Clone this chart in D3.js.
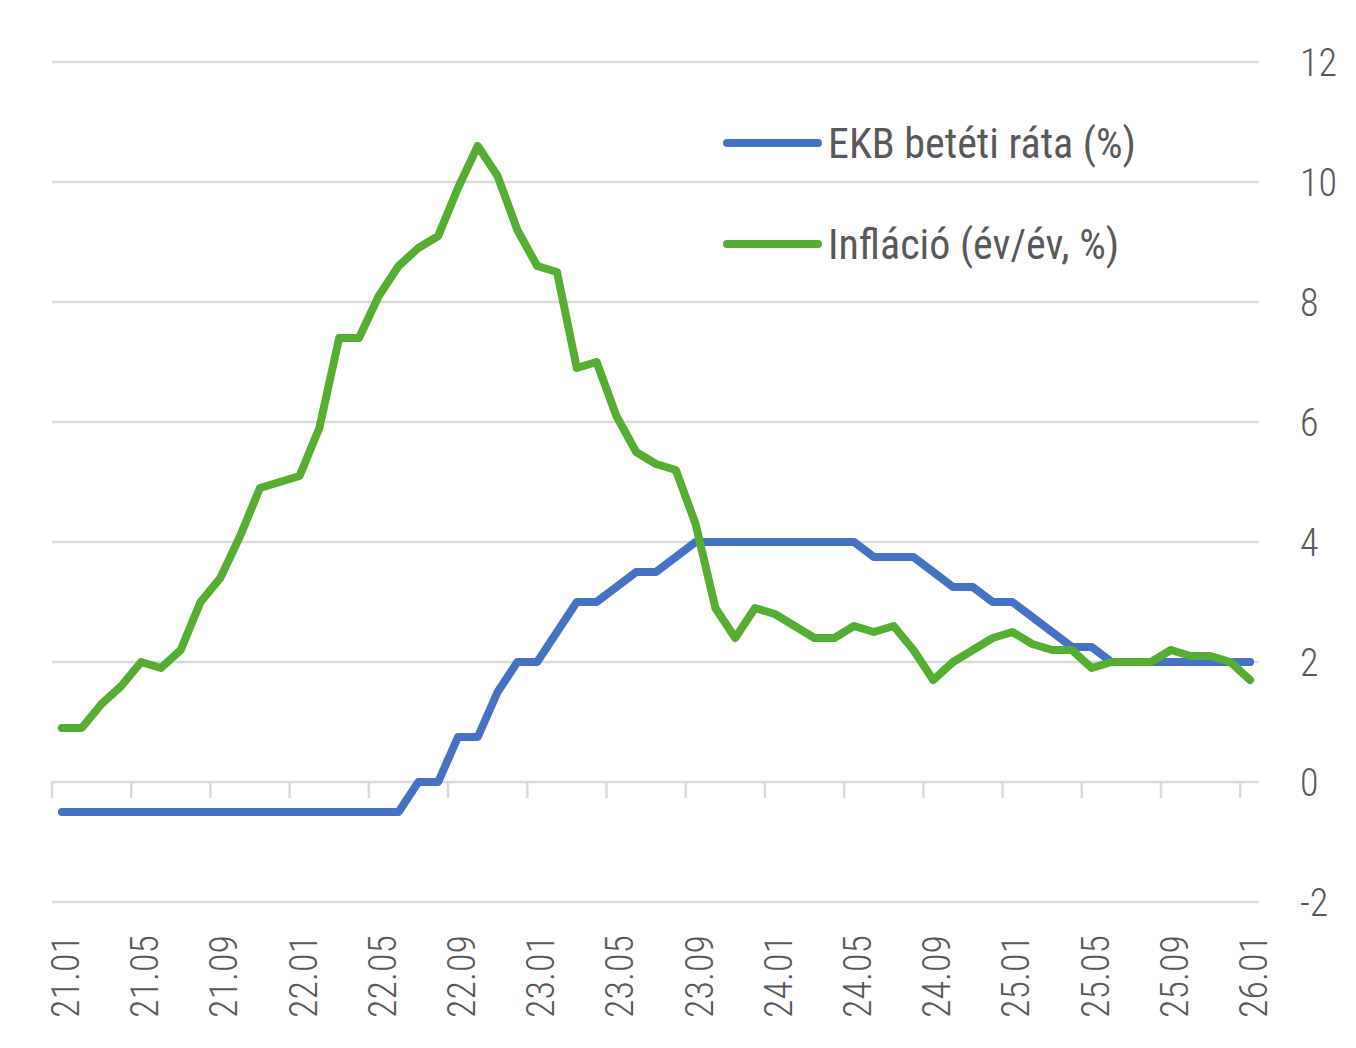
<!DOCTYPE html>
<html>
<head>
<meta charset="utf-8">
<script src="https://cdn.jsdelivr.net/npm/d3@7"></script>
<style>
  body { margin: 0; background: #fff; }
  svg { display: block; }
  .axis-label { font-family: 'Roboto Condensed', Roboto, sans-serif; font-weight: 300; fill: #595959; }
  .legend-label { font-family: 'Roboto Condensed', Roboto, sans-serif; font-weight: 400; fill: #595959; }
</style>
</head>
<body>
<div id="chart"></div>
<script>
const months = [
  '21.01','21.02','21.03','21.04','21.05','21.06','21.07','21.08','21.09','21.10','21.11','21.12',
  '22.01','22.02','22.03','22.04','22.05','22.06','22.07','22.08','22.09','22.10','22.11','22.12',
  '23.01','23.02','23.03','23.04','23.05','23.06','23.07','23.08','23.09','23.10','23.11','23.12',
  '24.01','24.02','24.03','24.04','24.05','24.06','24.07','24.08','24.09','24.10','24.11','24.12',
  '25.01','25.02','25.03','25.04','25.05','25.06','25.07','25.08','25.09','25.10','25.11','25.12',
  '26.01'
]
// EKB betéti ráta (%)
const depositRate = [
  -0.5,-0.5,-0.5,-0.5,-0.5,-0.5,-0.5,-0.5,-0.5,-0.5,-0.5,-0.5,
  -0.5,-0.5,-0.5,-0.5,-0.5,-0.5,0,0,0.75,0.75,1.5,2,
  2,2.5,3,3,3.25,3.5,3.5,3.75,4,4,4,4,
  4,4,4,4,4,3.75,3.75,3.75,3.5,3.25,3.25,3,
  3,2.75,2.5,2.25,2.25,2,2,2,2,2,2,2,
  2
]
// Infláció (év/év, %)
const inflation = [
  0.9,0.9,1.3,1.6,2.0,1.9,2.2,3.0,3.4,4.1,4.9,5.0,
  5.1,5.9,7.4,7.4,8.1,8.6,8.9,9.1,9.9,10.6,10.1,9.2,
  8.6,8.5,6.9,7.0,6.1,5.5,5.3,5.2,4.3,2.9,2.4,2.9,
  2.8,2.6,2.4,2.4,2.6,2.5,2.6,2.2,1.7,2.0,2.2,2.4,
  2.5,2.3,2.2,2.2,1.9,2.0,2.0,2.0,2.2,2.1,2.1,2.0,
  1.7
]
const yTicks = [-2, 0, 2, 4, 6, 8, 10, 12]
const seriesNames = ['EKB betéti ráta (%)', 'Infláció (év/év, %)']
const seriesColors = ['#4472C4', '#53AE32']

const width = 1356, height = 1048
const svg = d3.select('#chart').append('svg')
  .attr('width', width)
  .attr('height', height)

const x = d3.scaleBand()
  .domain(months)
  .range([52, 1260])
  .paddingInner(0).paddingOuter(0)
const bw = x.bandwidth()
const cx = d => x(d) + bw / 2
const y = d3.scaleLinear()
  .domain([-2, 12])
  .range([902, 62])

// gridlines
svg.append('g')
  .selectAll('line')
  .data(yTicks)
  .enter().append('line')
  .attr('x1', 52)
  .attr('x2', 1259)
  .attr('y1', d => y(d))
  .attr('y2', d => y(d))
  .attr('stroke', '#d9d9d9')
  .attr('stroke-width', 2.5)

// category tick marks (between categories, every 4 months)
const tickIdx = d3.range(0, months.length, 4)
svg.append('g')
  .selectAll('line')
  .data(tickIdx)
  .enter().append('line')
  .attr('x1', i => x(months[i]))
  .attr('x2', i => x(months[i]))
  .attr('y1', y(0))
  .attr('y2', y(0) + 16)
  .attr('stroke', '#d9d9d9')
  .attr('stroke-width', 2.5)

// y labels on the right
svg.append('g')
  .selectAll('text')
  .data(yTicks)
  .enter().append('text')
  .attr('class', 'axis-label')
  .attr('x', 1300)
  .attr('y', d => y(d))
  .attr('dy', '0.36em')
  .style('font-size', '38px')
  .text(d => d)

// x labels rotated
svg.append('g')
  .selectAll('text')
  .data(tickIdx)
  .enter().append('text')
  .attr('class', 'axis-label')
  .attr('transform', i => `translate(${cx(months[i]) + 17}, 935) rotate(-90)`)
  .style('text-anchor', 'end')
  .style('font-size', '38px')
  .text(i => months[i])

const line = d3.line()
  .x((d, i) => cx(months[i]))
  .y(d => y(d))

;[depositRate, inflation].forEach((s, k) => {
  svg.append('path')
    .datum(s)
    .attr('d', line)
    .attr('fill', 'none')
    .attr('stroke', seriesColors[k])
    .attr('stroke-width', 8)
    .attr('stroke-linejoin', 'round')
    .attr('stroke-linecap', 'round')
})

// legend
const legend = svg.append('g')
  .selectAll('g')
  .data(seriesNames)
  .enter().append('g')
  .attr('transform', (d, i) => `translate(727, ${143 + i * 101})`)
legend.append('line')
  .attr('x1', 0).attr('x2', 91)
  .attr('stroke', (d, i) => seriesColors[i])
  .attr('stroke-width', 8)
  .attr('stroke-linecap', 'round')
legend.append('text')
  .attr('class', 'legend-label')
  .attr('x', 101)
  .attr('dy', '0.36em')
  .style('font-size', '42px')
  .text(d => d)
</script>
</body>
</html>
